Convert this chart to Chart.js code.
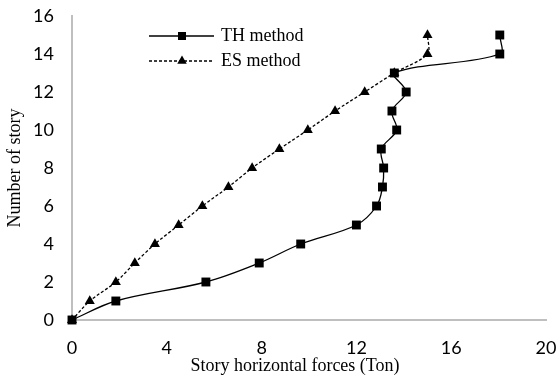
<!DOCTYPE html>
<html>
<head>
<meta charset="utf-8">
<script src="https://cdn.jsdelivr.net/npm/chart.js@4/dist/chart.umd.min.js"></script>
<style>
  html, body { margin: 0; padding: 0; background: #fff; }
  #wrap { width: 556px; height: 378px; }
</style>
</head>
<body>
<div id="wrap"><canvas id="storyChart" width="556" height="378"></canvas></div>
<script>
'use strict';

// -------------------- data --------------------
const stories = [0, 1, 2, 3, 4, 5, 6, 7, 8, 9, 10, 11, 12, 13, 14, 15];
const thForces = [0, 1.85, 5.65, 7.9, 9.65, 12.0, 12.85, 13.1, 13.15, 13.05, 13.7, 13.5, 14.1, 13.6, 18.05, 18.05];
const esForces = [0, 0.75, 1.85, 2.65, 3.5, 4.5, 5.5, 6.6, 7.6, 8.75, 9.95, 11.1, 12.35, 13.6, 15.0, 15.0];
const seriesNames = ['TH method', 'ES method'];
const xTicks = [0, 4, 8, 12, 16, 20];
const yTicks = [0, 2, 4, 6, 8, 10, 12, 14, 16];

const toPoints = (forces) => forces.map((f, i) => ({x: f, y: stories[i]}));

// -------------------- plugins --------------------
// axis titles (x title sits a little left of centre)
const axisTitles = {
  id: 'axisTitles',
  afterDraw(chart) {
    const {ctx, chartArea} = chart;
    ctx.save();
    ctx.fillStyle = '#000';
    ctx.font = '18px "Liberation Serif"';
    ctx.textAlign = 'center';
    ctx.textBaseline = 'alphabetic';
    ctx.fillText('Story horizontal forces (Ton)', chartArea.left + 223, chartArea.bottom + 51);

    ctx.translate(20, (chartArea.top + chartArea.bottom) / 2);
    ctx.rotate(-Math.PI / 2);
    ctx.fillText('Number of story', 0, 0);
    ctx.restore();
  }
};

// legend inside the plot: line + marker + label
const innerLegend = {
  id: 'innerLegend',
  afterDraw(chart) {
    const {ctx, chartArea} = chart;
    const x0 = chartArea.left + 77;
    const x1 = chartArea.left + 142;
    const xm = chartArea.left + 110;
    const rows = [chartArea.top + 20, chartArea.top + 45];

    ctx.save();
    ctx.strokeStyle = '#000';
    ctx.fillStyle = '#000';
    ctx.lineWidth = 1.3;

    // TH
    ctx.setLineDash([]);
    ctx.beginPath();
    ctx.moveTo(x0, rows[0]);
    ctx.lineTo(x1, rows[0]);
    ctx.stroke();
    ctx.fillRect(xm - 4, rows[0] - 4, 8, 8);

    // ES
    ctx.setLineDash([3, 2]);
    ctx.beginPath();
    ctx.moveTo(x0, rows[1]);
    ctx.lineTo(x1, rows[1]);
    ctx.stroke();
    const r = 5.5;
    ctx.beginPath();
    ctx.moveTo(xm, rows[1] - r);
    ctx.lineTo(xm + r * 0.866, rows[1] + r / 2);
    ctx.lineTo(xm - r * 0.866, rows[1] + r / 2);
    ctx.closePath();
    ctx.fill();

    ctx.font = '18px "Liberation Serif"';
    ctx.textAlign = 'left';
    ctx.textBaseline = 'middle';
    ctx.fillText(seriesNames[0], x1 + 7, rows[0]);
    ctx.fillText(seriesNames[1], x1 + 7, rows[1]);
    ctx.restore();
  }
};

// -------------------- Chart.js --------------------
{
  const ctx = document.getElementById('storyChart').getContext('2d');
  const tickFont = {family: 'Lato', size: 18};
  const axisGray = '#bfbfbf';

  new Chart(ctx, {
    type: 'line',
    data: {
      datasets: [{
        label: seriesNames[0],
        data: toPoints(thForces),
        borderColor: '#000',
        backgroundColor: '#000',
        borderWidth: 1.3,
        tension: 0.35,
        pointStyle: 'rect',
        pointRadius: 6.3,
        pointBorderWidth: 0,
        clip: false,
      }, {
        label: seriesNames[1],
        data: toPoints(esForces),
        borderColor: '#000',
        backgroundColor: '#000',
        borderWidth: 1.3,
        borderDash: [3, 2],
        tension: 0.3,
        pointStyle: 'triangle',
        pointRadius: 5.8,
        pointBorderWidth: 0,
        clip: false,
      }]
    },
    options: {
      responsive: false,
      animation: false,
      devicePixelRatio: 1,
      layout: {
        padding: {left: 0, right: 10, top: 16, bottom: 0}
      },
      plugins: {
        legend: {display: false},
        tooltip: {enabled: false},
      },
      scales: {
        x: {
          type: 'linear',
          min: 0,
          max: 20,
          afterBuildTicks: (scale) => { scale.ticks = xTicks.map(v => ({value: v})); },
          afterFit: (scale) => {
            scale.height = 58;
            scale.paddingLeft = 0;
            scale.paddingRight = 0;
          },
          grid: {display: false, drawTicks: false},
          border: {display: true, color: axisGray, width: 2},
          ticks: {font: tickFont, color: '#000', padding: 17, maxRotation: 0},
        },
        y: {
          type: 'linear',
          min: 0,
          max: 16,
          afterBuildTicks: (scale) => { scale.ticks = yTicks.map(v => ({value: v})); },
          afterFit: (scale) => {
            scale.width = 72;
            scale.paddingTop = 0;
            scale.paddingBottom = 0;
          },
          grid: {display: false, drawTicks: false},
          border: {display: true, color: axisGray, width: 2},
          ticks: {font: tickFont, color: '#000', padding: 18},
        }
      }
    },
    plugins: [axisTitles, innerLegend]
  });
}
</script>
</body>
</html>
